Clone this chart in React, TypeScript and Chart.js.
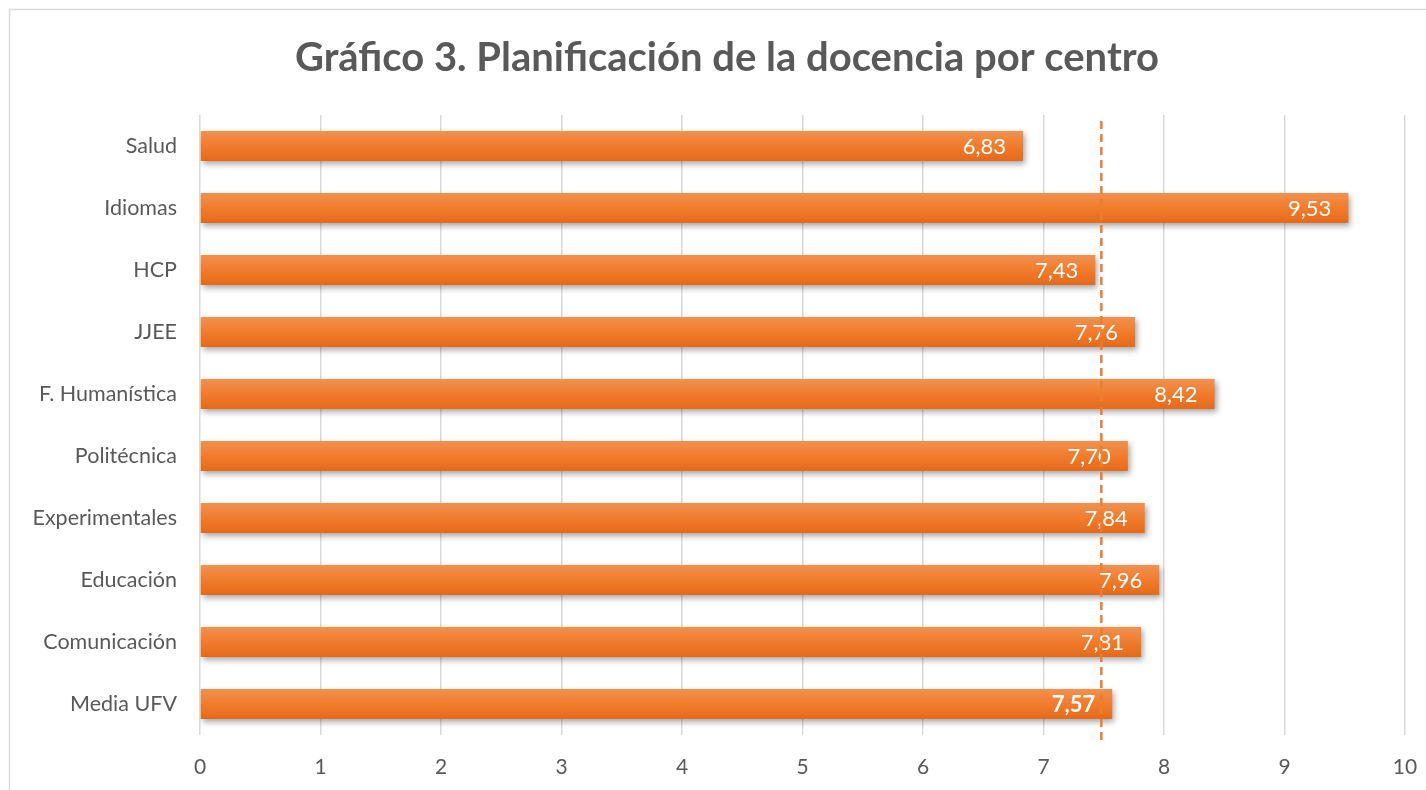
import React, { useEffect, useRef } from "react";
import { Chart, registerables } from "chart.js";

Chart.register(...registerables);

const categories = [
  "Salud",
  "Idiomas",
  "HCP",
  "JJEE",
  "F. Humanística",
  "Politécnica",
  "Experimentales",
  "Educación",
  "Comunicación",
  "Media UFV",
];
const values = [6.83, 9.53, 7.43, 7.76, 8.42, 7.7, 7.84, 7.96, 7.81, 7.57];
const referenceLine = 7.48;
const xTicks = [0, 1, 2, 3, 4, 5, 6, 7, 8, 9, 10];
const titleText = "Gráfico 3. Planificación de la docencia por centro";

const FONT = "Lato, 'Open Sans', sans-serif";
const GRAY = "#595959";
const BAR_PCT = 0.48;

const framePlugin = {
  id: "frame",
  beforeDraw(chart: any) {
    const ctx = chart.ctx;
    ctx.save();
    ctx.fillStyle = "#ffffff";
    ctx.fillRect(0, 0, chart.width, chart.height);
    ctx.strokeStyle = "#D9D9D9";
    ctx.lineWidth = 1.5;
    ctx.strokeRect(9.5, 9.5, chart.width + 20, chart.height + 20);
    // title
    ctx.fillStyle = GRAY;
    ctx.font = `bold 40px ${FONT}`;
    ctx.textAlign = "center";
    ctx.textBaseline = "middle";
    ctx.fillText(titleText, 727, 58);
    ctx.restore();
  },
};

const shadowPlugin = {
  id: "barShadow",
  beforeDatasetsDraw(chart: any) {
    const ctx = chart.ctx;
    ctx.save();
    ctx.shadowColor = "rgba(0,0,0,0.35)";
    ctx.shadowBlur = 6;
    ctx.shadowOffsetX = 2;
    ctx.shadowOffsetY = 3;
  },
  afterDatasetsDraw(chart: any) {
    chart.ctx.restore();
    const ctx = chart.ctx;
    const meta = chart.getDatasetMeta(0);
    ctx.save();
    ctx.fillStyle = "#ffffff";
    ctx.textAlign = "right";
    ctx.textBaseline = "middle";
    meta.data.forEach((bar: any, i: number) => {
      const last = i === values.length - 1;
      ctx.font = `${last ? "bold " : ""}22px ${FONT}`;
      const label = values[i].toFixed(2).replace(".", ",");
      ctx.fillText(label, bar.x - 17, bar.y + 1);
    });
    ctx.restore();
    // dashed reference line
    const xs = chart.scales.x;
    const px = xs.getPixelForValue(referenceLine);
    ctx.save();
    ctx.strokeStyle = "#ED7D31";
    ctx.lineWidth = 2.5;
    ctx.setLineDash([8, 5]);
    ctx.beginPath();
    ctx.moveTo(px, chart.chartArea.top + 6);
    ctx.lineTo(px, chart.chartArea.bottom + 6);
    ctx.stroke();
    ctx.restore();
  },
};

export default function App() {
  const ref = useRef<HTMLCanvasElement | null>(null);
  useEffect(() => {
    if (!ref.current) return;
    const chart = new Chart(ref.current, {
      type: "bar",
      data: {
        labels: categories,
        datasets: [
          {
            data: values,
            backgroundColor: (c: any) => {
              const ch = c.chart;
              const ys = ch.scales && ch.scales.y;
              if (!ys || c.dataIndex === undefined) return "#ED7D31";
              const center = ys.getPixelForValue(c.dataIndex);
              const step = Math.abs(ys.getPixelForValue(1) - ys.getPixelForValue(0));
              const half = (step * BAR_PCT) / 2;
              if (!isFinite(center) || !isFinite(half)) return "#ED7D31";
              const g = ch.ctx.createLinearGradient(0, center - half, 0, center + half);
              g.addColorStop(0, "#F2914F");
              g.addColorStop(0.5, "#F07C2C");
              g.addColorStop(1, "#E56A18");
              return g;
            },
            borderWidth: 0,
            categoryPercentage: 1,
            barPercentage: BAR_PCT,
          },
        ],
      },
      options: {
        indexAxis: "y",
        animation: false,
        responsive: true,
        maintainAspectRatio: false,
        layout: { padding: { left: 0, right: 21, top: 115, bottom: 10 } },
        plugins: {
          legend: { display: false },
          tooltip: { enabled: false },
          title: { display: false },
        },
        scales: {
          x: {
            min: 0,
            max: 10,
            afterBuildTicks: (s: any) => {
              s.ticks = xTicks.map((v) => ({ value: v }));
            },
            grid: { color: "#D9D9D9", lineWidth: 1.5, drawTicks: false },
            border: { display: false },
            ticks: {
              color: GRAY,
              font: { family: FONT, size: 21 },
              padding: 20,
            },
            afterFit: (s: any) => {
              s.height = 45;
              s.paddingLeft = 0;
              s.paddingRight = 0;
            },
          },
          y: {
            grid: { display: false, drawTicks: false },
            border: { display: false },
            ticks: {
              color: GRAY,
              font: { family: FONT, size: 21.5 },
              padding: 23,
            },
            afterFit: (s: any) => {
              s.width = 200;
              s.paddingTop = 0;
              s.paddingBottom = 0;
            },
          },
        },
      },
      plugins: [framePlugin, shadowPlugin],
    });
    return () => chart.destroy();
  }, []);
  return (
    <div style={{ position: "fixed", left: 0, top: 0, width: "1426px", height: "790px" }}>
      <canvas ref={ref} />
    </div>
  );
}
